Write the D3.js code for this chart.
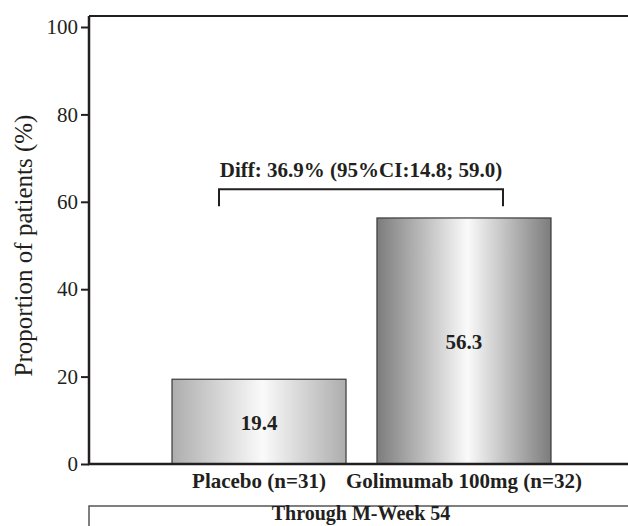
<!DOCTYPE html>
<html>
<head>
<meta charset="utf-8">
<script src="https://cdn.jsdelivr.net/npm/d3@7"></script>
<style>
body { margin: 0; background: #fff; }
svg { display: block; }
svg text { font-family: "Liberation Serif", "Times New Roman", Times, serif; }
</style>
</head>
<body>
<svg width="628" height="526"></svg>
<script>
var svg = d3.select("svg");

var width = 628,
    height = 526;

// data
var categories = ["Placebo (n=31)", "Golimumab 100mg (n=32)"];
var values = [19.4, 56.3];
var edgeColors = ["#adadad", "#7c7c7c"];
var yTicks = [0, 20, 40, 60, 80, 100];
var diffLabel = "Diff: 36.9% (95%CI:14.8; 59.0)";
var diffUpper = 59.0;
var periodLabel = "Through M-Week 54";
var yTitle = "Proportion of patients (%)";

var LeftX = 89,
    TopY = 16,
    BaseY = 464;

var x = d3.scaleBand()
    .domain(categories)
    .range([172, 551])
    .paddingInner(0.151)
    .paddingOuter(0);

var y = d3.scaleLinear()
    .domain([0, 100])
    .range([BaseY, 27]);

// gradients
var defs = svg.append("defs");
categories.forEach(function (c, i) {
    var g = defs.append("linearGradient")
        .attr("id", "grad" + i)
        .attr("x1", "0%").attr("x2", "100%")
        .attr("y1", "0%").attr("y2", "0%");
    g.append("stop").attr("offset", "0%").attr("stop-color", edgeColors[i]);
    g.append("stop").attr("offset", "52%").attr("stop-color", "#fafafa");
    g.append("stop").attr("offset", "100%").attr("stop-color", edgeColors[i]);
});

// frame top line
svg.append("line")
    .attr("x1", LeftX).attr("x2", width)
    .attr("y1", TopY).attr("y2", TopY)
    .attr("stroke", "#231f20").attr("stroke-width", 2);

// bars
svg.append("g")
    .selectAll("rect")
    .data(values)
    .enter().append("rect")
    .attr("x", function (d, i) { return x(categories[i]); })
    .attr("y", function (d) { return y(d); })
    .attr("width", x.bandwidth())
    .attr("height", function (d) { return y(0) - y(d); })
    .attr("fill", function (d, i) { return "url(#grad" + i + ")"; })
    .attr("stroke", "#3a3a3a")
    .attr("stroke-width", 1.2);

// value labels
svg.append("g")
    .selectAll("text")
    .data(values)
    .enter().append("text")
    .attr("x", function (d, i) { return x(categories[i]) + x.bandwidth() / 2; })
    .attr("y", function (d) { return (y(d) + y(0)) / 2 + 8; })
    .attr("text-anchor", "middle")
    .attr("font-size", 21)
    .attr("font-weight", "bold")
    .attr("fill", "#231f20")
    .text(function (d) { return d.toFixed(1); });

// y axis
var yAxis = svg.append("g")
    .attr("transform", "translate(" + LeftX + ",0)")
    .call(d3.axisLeft(y).tickValues(yTicks).tickSize(8).tickPadding(3))
    .attr("font-family", null);
yAxis.select(".domain")
    .attr("d", "M0," + TopY + "V" + BaseY)
    .attr("stroke", "#231f20").attr("stroke-width", 2.5);
yAxis.selectAll(".tick line").attr("stroke", "#231f20").attr("stroke-width", 2);
yAxis.selectAll(".tick text")
    .attr("font-size", 21)
    .attr("fill", "#231f20");

// x axis baseline
svg.append("line")
    .attr("x1", LeftX - 1).attr("x2", width)
    .attr("y1", BaseY).attr("y2", BaseY)
    .attr("stroke", "#231f20").attr("stroke-width", 2.5);

// category labels
svg.append("g")
    .selectAll("text")
    .data(categories)
    .enter().append("text")
    .attr("x", function (d) { return x(d) + x.bandwidth() / 2; })
    .attr("y", 488)
    .attr("text-anchor", "middle")
    .attr("font-size", 21)
    .attr("font-weight", "bold")
    .attr("fill", "#231f20")
    .text(function (d) { return d; });

// diff bracket
var bx1 = 219, bx2 = 503, by = y(diffUpper) - 17;
svg.append("path")
    .attr("d", "M" + bx1 + "," + (by + 17) + "V" + by + "H" + bx2 + "V" + (by + 17))
    .attr("fill", "none")
    .attr("stroke", "#231f20")
    .attr("stroke-width", 2);
svg.append("text")
    .attr("x", (bx1 + bx2) / 2)
    .attr("y", by - 12)
    .attr("text-anchor", "middle")
    .attr("font-size", 21)
    .attr("font-weight", "bold")
    .attr("fill", "#231f20")
    .text(diffLabel);

// period box
svg.append("path")
    .attr("d", "M" + LeftX + "," + height + "V506H" + width)
    .attr("fill", "none")
    .attr("stroke", "#555")
    .attr("stroke-width", 1.5);
svg.append("text")
    .attr("x", (bx1 + bx2) / 2)
    .attr("y", 520)
    .attr("text-anchor", "middle")
    .attr("font-size", 20)
    .attr("font-weight", "bold")
    .attr("fill", "#231f20")
    .text(periodLabel);

// y title
svg.append("text")
    .attr("transform", "translate(32," + ((y(0) + y(100)) / 2) + ") rotate(-90)")
    .attr("text-anchor", "middle")
    .attr("font-size", 25)
    .attr("fill", "#231f20")
    .text(yTitle);
</script>
</body>
</html>
